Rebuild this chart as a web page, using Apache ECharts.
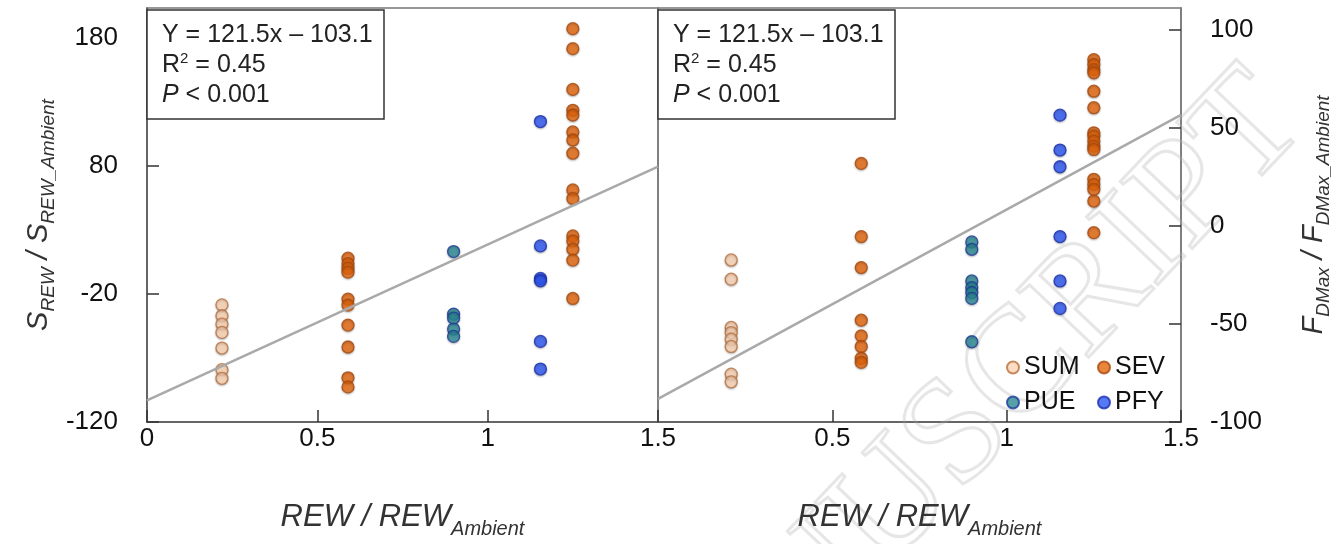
<!DOCTYPE html>
<html>
<head>
<meta charset="utf-8">
<script src="https://cdn.jsdelivr.net/npm/echarts@6/dist/echarts.min.js"></script>
<style>html,body{margin:0;padding:0;background:#fff}#c{width:1344px;height:544px}</style>
</head>
<body>
<div id="c"></div>
<script>
// ---- data ----
const xTicks = [0, 0.5, 1, 1.5];
const leftYTicks = [-120, -20, 80, 180];
const rightYTicks = [-100, -50, 0, 50, 100];

// left panel: S_REW / S_REW_Ambient
const sumLeftX = 0.22;
const sumLeftY = [-28.6, -37.1, -43.6, -50.1, -62.3, -79.2, -85.9];
const sevLeftX1 = 0.59;
const sevLeftY1 = [7.8, 3.5, 0, -3.1, -24.1, -28.8, -44.4, -61.5, -85.5, -92.6];
const sevLeftX2 = 1.25;
const sevLeftY2 = [186.9, 171.3, 139.5, 123.2, 119.5, 106.3, 100, 89.7, 61.1, 54.4, 25.2, 21.3, 14.8, 6.3, -23.6];
const pueLeftX = 0.90;
const pueLeftY = [13, -35.8, -38.9, -47.5, -53.2];
const pfyLeftX = 1.155;
const pfyLeftY = [114.4, 17.4, -8, -9.8, -57.1, -78.7];
const fitLeft = [[0, -103.1], [1.5, 79.2]];

// right panel: F_DMax / F_DMax_Ambient
const sumRightX = 0.21;
const sumRightY = [-17.4, -27.2, -51.8, -54.4, -57.8, -61.5, -75.6, -79.5];
const sevRightX1 = 0.583;
const sevRightY1 = [31.8, -5.5, -21.3, -48.1, -56.1, -61.5, -67.5, -69.6];
const sevRightX2 = 1.25;
const sevRightY2 = [84.7, 82.2, 79.6, 78, 68.6, 60.2, 47.4, 45.7, 43.2, 40.6, 38.9, 23.7, 21.1, 18.6, 12.6, -3.5];
const pueRightX = 0.90;
const pueRightY = [-8.2, -12, -28.1, -31.5, -34, -37, -59.1];
const pfyRightX = 1.153;
const pfyRightY = [56.4, 38.6, 30.1, -5.5, -28.1, -42.1];
const fitRight = [[0, -88.2], [1.5, 56.5]];

const statLines = ['Y = 121.5x \u2013 103.1', '0.45', '< 0.001'];

// ---- styles ----
const FONT = 'Liberation Sans, Arial, sans-serif';
const styles = {
  SUM: { color: '#fdd3b5', borderColor: '#b8703c' },
  SEV: { color: '#e5670e', borderColor: '#a9490c' },
  PUE: { color: '#2a8894', borderColor: '#1d3a9c' },
  PFY: { color: '#2d57f2', borderColor: '#1a2fae' }
};
const pairs = (x, ys) => ys.map(v => [x, v]);

function scatter(name, data, idx) {
  return {
    name, type: 'scatter', xAxisIndex: idx, yAxisIndex: idx, data,
    symbol: 'circle', symbolSize: 12, z: 3,
    itemStyle: Object.assign({ borderWidth: 1.3, shadowBlur: 2, shadowOffsetY: 1, shadowColor: 'rgba(0,0,0,0.3)' }, styles[name]),
    emphasis: { disabled: true }
  };
}
function fit(data, idx) {
  return {
    type: 'line', xAxisIndex: idx, yAxisIndex: idx, data, symbol: 'none', z: 4,
    lineStyle: { color: '#a9a9a9', width: 2.5 }, silent: true
  };
}

function subRich(big, small, drop) {
  return {
    i: { fontFamily: FONT, fontStyle: 'italic', fontSize: big, color: '#333', lineHeight: big + 4, verticalAlign: 'top' },
    s: { fontFamily: FONT, fontStyle: 'italic', fontSize: small, color: '#333', lineHeight: small + 3, verticalAlign: 'top', padding: [drop, 0, 0, 0] }
  };
}

function xAxis(idx, showMin) {
  return {
    type: 'value', gridIndex: idx, min: 0, max: 1.5,
    axisLine: { show: true, onZero: false, lineStyle: { color: '#555', width: 1.5 } },
    axisTick: { show: true, inside: true, length: 12, customValues: xTicks, lineStyle: { color: '#333', width: 1.5 } },
    axisLabel: { customValues: xTicks, showMinLabel: showMin, fontFamily: FONT, fontSize: 26, color: '#111', margin: 4 },
    splitLine: { show: false },
    name: '{i|REW / REW}{s|Ambient}', nameLocation: 'middle', nameGap: 80,
    nameTextStyle: { rich: subRich(31, 20, 17) }
  };
}

const option = {
  animation: false,
  backgroundColor: '#fff',
  grid: [
    { left: 147, top: 8, width: 511, height: 415, show: true, borderColor: '#777', borderWidth: 1.5, backgroundColor: 'transparent' },
    { left: 658, top: 8, width: 523, height: 415, show: true, borderColor: '#777', borderWidth: 1.5, backgroundColor: 'transparent' }
  ],
  xAxis: [xAxis(0, true), xAxis(1, false)],
  yAxis: [
    {
      type: 'value', gridIndex: 0, min: -120, max: 203,
      axisLine: { show: true, onZero: false, lineStyle: { color: '#555', width: 1.5 } },
      axisTick: { show: true, inside: true, length: 12, customValues: leftYTicks, lineStyle: { color: '#333', width: 1.5 } },
      axisLabel: { customValues: leftYTicks, fontFamily: FONT, fontSize: 26, color: '#111', margin: 29 },
      splitLine: { show: false },
      name: '{i|S}{s|REW}{i| / S}{s|REW_Ambient}', nameLocation: 'middle', nameRotate: 90, nameGap: 90,
      nameTextStyle: { rich: subRich(29, 19, 15) }
    },
    {
      type: 'value', gridIndex: 1, min: -100, max: 111, position: 'right',
      axisLine: { show: true, onZero: false, lineStyle: { color: '#777', width: 1.5 } },
      axisTick: { show: true, inside: true, length: 12, customValues: rightYTicks, lineStyle: { color: '#333', width: 1.5 } },
      axisLabel: { customValues: rightYTicks, fontFamily: FONT, fontSize: 26, color: '#111', margin: 29 },
      splitLine: { show: false },
      name: '{i|F}{s|DMax}{i| / F}{s|DMax_Ambient}', nameLocation: 'middle', nameRotate: 90, nameGap: 118,
      nameTextStyle: { rich: subRich(29, 19, 15) }
    }
  ],
  legend: [
    { data: ['SUM'], left: 1006, top: 355 },
    { data: ['SEV'], left: 1097, top: 355 },
    { data: ['PUE'], left: 1006, top: 390 },
    { data: ['PFY'], left: 1097, top: 390 }
  ].map(l => Object.assign(l, {
    icon: 'circle', itemWidth: 12, itemHeight: 12, padding: 0,
    textStyle: { fontFamily: FONT, fontSize: 25, color: '#111' }, selectedMode: false
  })),
  series: [
    fit(fitLeft, 0),
    scatter('SUM', pairs(sumLeftX, sumLeftY), 0),
    scatter('SEV', pairs(sevLeftX1, sevLeftY1).concat(pairs(sevLeftX2, sevLeftY2)), 0),
    scatter('PUE', pairs(pueLeftX, pueLeftY), 0),
    scatter('PFY', pairs(pfyLeftX, pfyLeftY), 0),
    fit(fitRight, 1),
    scatter('SUM', pairs(sumRightX, sumRightY), 1),
    scatter('SEV', pairs(sevRightX1, sevRightY1).concat(pairs(sevRightX2, sevRightY2)), 1),
    scatter('PUE', pairs(pueRightX, pueRightY), 1),
    scatter('PFY', pairs(pfyRightX, pfyRightY), 1)
  ]
};

const statRich = {
  n: { fontFamily: FONT, fontSize: 25, color: '#222', lineHeight: 30 },
  it: { fontFamily: FONT, fontSize: 25, fontStyle: 'italic', color: '#222', lineHeight: 30 },
  sup: { fontFamily: FONT, fontSize: 15, color: '#222', lineHeight: 30, padding: [0, 0, 12, 0] }
};
function statBox(x) {
  return [
    { type: 'rect', shape: { x: x, y: 10, width: 237, height: 109 }, style: { fill: '#fff', stroke: '#333', lineWidth: 1.5 }, z: 10 },
    { type: 'text', x: x + 15, y: 20, z: 11, style: {
      text: '{n|' + statLines[0] + '}\n{n|R}{sup|2}{n| = ' + statLines[1] + '}\n{it|P}{n| ' + statLines[2] + '}',
      rich: statRich, fill: '#222', font: '25px ' + FONT
    } }
  ];
}

option.graphic = [
  { type: 'text', x: 1335, y: 150, rotation: 0.81, z: 0, silent: true, style: {
    text: 'ACCEPTED MANUSCRIPT', font: '150px Liberation Serif, serif', fill: 'rgba(0,0,0,0)',
    stroke: '#e6e6e6', lineWidth: 3, align: 'right', verticalAlign: 'bottom'
  } }
].concat(statBox(147), statBox(658));

const chart = echarts.init(document.getElementById('c'), null, { renderer: 'canvas' });
chart.setOption(option);
</script>
</body>
</html>
